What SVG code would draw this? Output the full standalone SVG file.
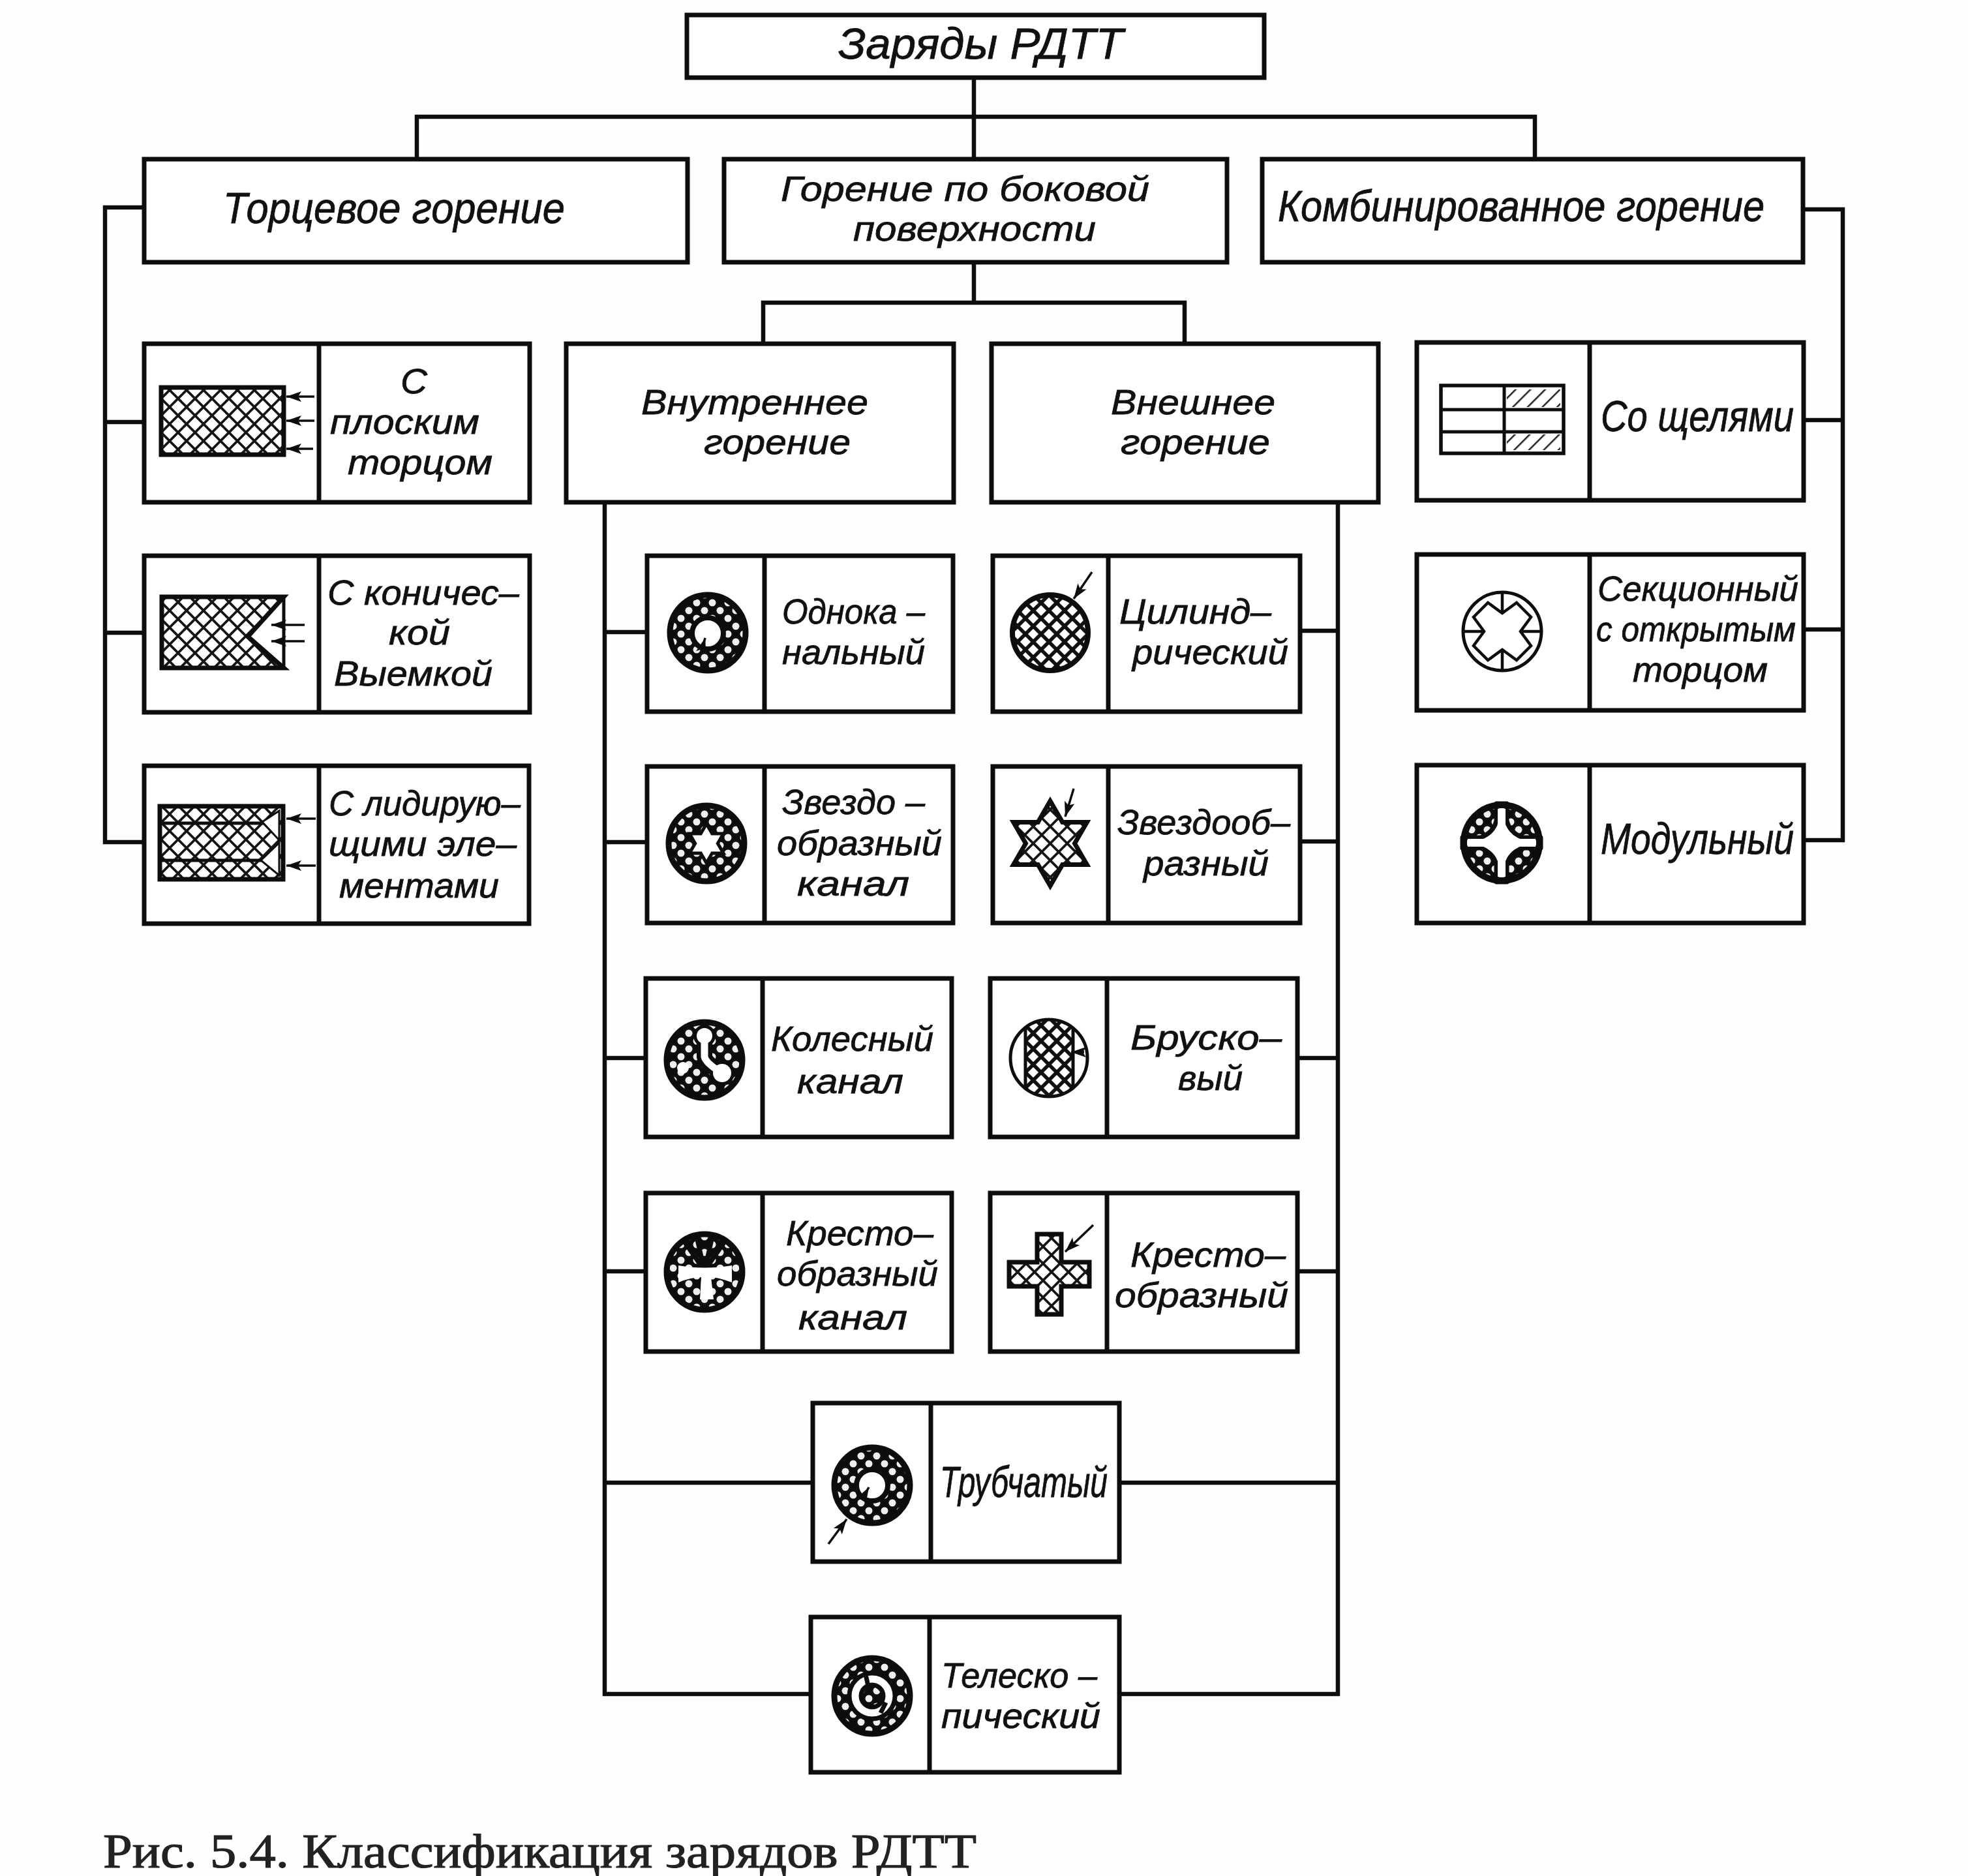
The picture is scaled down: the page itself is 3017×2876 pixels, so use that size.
<svg xmlns="http://www.w3.org/2000/svg" width="3017" height="2876" viewBox="0 0 3017 2876">
<style>
.b{fill:#fff;stroke:#0d0d0d;stroke-width:7;stroke-linejoin:miter}
.d{fill:none;stroke:#0d0d0d;stroke-width:7}
.c{fill:none;stroke:#0d0d0d;stroke-width:6.5;stroke-linecap:square;stroke-linejoin:miter}
.t{font-family:"Liberation Sans","DejaVu Sans",sans-serif;font-style:italic;font-size:54px;fill:#111;stroke:#111;stroke-width:.8}
.h{font-size:54px}
.s{font-size:66px}
.cap{font-family:"Liberation Serif","DejaVu Serif",serif;font-size:74px;fill:#222;stroke:#222;stroke-width:1.2}
.o{stroke:#0d0d0d;stroke-width:7;stroke-linejoin:miter}
.ln{fill:none;stroke:#0d0d0d;stroke-width:5}
.a{fill:none;stroke:#0d0d0d;stroke-width:3.5;marker-end:url(#ah)}
.w{fill:#fff}
</style>
<defs>
<marker id="ah" markerUnits="userSpaceOnUse" markerWidth="28" markerHeight="20" refX="26" refY="10" orient="auto"><path d="M0,10L26,10L3,2L8,10L3,18L26,10Z" fill="#0d0d0d"/></marker>
<pattern id="x" patternUnits="userSpaceOnUse" width="26" height="26"><path d="M0,0L26,26M26,0L0,26" stroke="#151515" stroke-width="3.8" fill="none"/></pattern>
<pattern id="xb" patternUnits="userSpaceOnUse" width="24" height="24"><path d="M0,0L24,24M24,0L0,24" stroke="#111" stroke-width="5.5" fill="none"/></pattern>
<pattern id="xd" patternUnits="userSpaceOnUse" width="24" height="24"><rect width="24" height="24" fill="#0d0d0d"/><circle cx="12" cy="12" r="5.5" fill="#eee"/><circle cx="0" cy="0" r="5.5" fill="#eee"/><circle cx="24" cy="0" r="5.5" fill="#eee"/><circle cx="0" cy="24" r="5.5" fill="#eee"/><circle cx="24" cy="24" r="5.5" fill="#eee"/></pattern>
<pattern id="s" patternUnits="userSpaceOnUse" width="16" height="16" patternTransform="rotate(45)"><path d="M0,0V16" stroke="#222" stroke-width="5"/></pattern>
<clipPath id="cbar"><circle cx="1608" cy="1622" r="60"/></clipPath>
</defs>
<rect width="3017" height="2876" fill="#fefefe"/>

<g id="connectors">
<path class="c" d="M1493,119V244M639,244V179H2353V244"/>
<path class="c" d="M1493,402V464M1170,527V464H1816V527"/>
<path class="c" d="M221,318H161V1291H221M161,647H221M161,970H221"/>
<path class="c" d="M2765,321H2825V1288H2766M2825,644H2766M2825,965H2766"/>
<path class="c" d="M927,770V2597H1243M927,969H992M927,1291H992M927,1622H990M927,1949H990M927,2273H1246"/>
<path class="c" d="M2051,770V2597H1716M2051,967H1993M2051,1290H1993M2051,1622H1989M2051,1949H1989M2051,2273H1716"/>
</g>

<g id="root"><rect class="b" x="1053" y="23" width="885" height="96"/><text class="t s" x="1285" y="90" textLength="437" lengthAdjust="spacingAndGlyphs">Заряды  РДТТ</text></g>
<g id="end-burning"><rect class="b" x="221" y="244" width="833" height="158"/><text class="t s" x="342" y="342" textLength="524" lengthAdjust="spacingAndGlyphs">Торцевое горение</text></g>
<g id="side-burning"><rect class="b" x="1110" y="244" width="771" height="158"/><text class="t h"><tspan x="1197" y="308" textLength="565" lengthAdjust="spacingAndGlyphs">Горение по боковой</tspan><tspan x="1308" y="369" textLength="372" lengthAdjust="spacingAndGlyphs">поверхности</tspan></text></g>
<g id="combined-burning"><rect class="b" x="1935" y="244" width="829" height="158"/><text class="t s" x="1959" y="339" textLength="746" lengthAdjust="spacingAndGlyphs">Комбинированное горение</text></g>
<g id="inner"><rect class="b" x="868" y="527" width="594" height="243"/><text class="t h"><tspan x="983" y="635" textLength="348" lengthAdjust="spacingAndGlyphs">Внутреннее</tspan><tspan x="1079" y="696" textLength="225" lengthAdjust="spacingAndGlyphs">горение</tspan></text></g>
<g id="outer"><rect class="b" x="1520" y="527" width="593" height="243"/><text class="t h"><tspan x="1703" y="635" textLength="252" lengthAdjust="spacingAndGlyphs">Внешнее</tspan><tspan x="1718" y="696" textLength="229" lengthAdjust="spacingAndGlyphs">горение</tspan></text></g>

<g id="flat-end"><rect class="b" x="221" y="527" width="591" height="243"/><path class="d" d="M489,527V770"/>
<rect x="247" y="594" width="188" height="103" fill="url(#x)" class="o"/>
<path class="a" d="M482,608H439"/><path class="a" d="M482,645H439"/><path class="a" d="M480,688H439"/>
<text class="t"><tspan x="614" y="603" textLength="41" lengthAdjust="spacingAndGlyphs">С</tspan><tspan x="506" y="665" textLength="229" lengthAdjust="spacingAndGlyphs">плоским</tspan><tspan x="533" y="727" textLength="222" lengthAdjust="spacingAndGlyphs">торцом</tspan></text></g>

<g id="conical"><rect class="b" x="221" y="852" width="591" height="240"/><path class="d" d="M489,852V1092"/>
<path d="M248,915H435L380,976L435,1024H248Z" fill="url(#x)" class="o"/><path d="M435,915V1024" class="ln"/>
<path class="a" d="M467,958H416"/><path class="a" d="M467,983H416"/>
<text class="t"><tspan x="502" y="927" textLength="294" lengthAdjust="spacingAndGlyphs">С коничес–</tspan><tspan x="596" y="988" textLength="94" lengthAdjust="spacingAndGlyphs">кой</tspan><tspan x="512" y="1051" textLength="243" lengthAdjust="spacingAndGlyphs">Выемкой</tspan></text></g>

<g id="leading"><rect class="b" x="221" y="1174" width="590" height="242"/><path class="d" d="M489,1174V1416"/>
<rect x="245" y="1236" width="189" height="112" fill="url(#x)" class="o"/>
<path d="M245,1262H405M245,1319H402" class="ln"/>
<path class="w" stroke="#0d0d0d" stroke-width="3" d="M402,1260L428,1243V1288ZM400,1319L428,1292V1342Z"/>
<path class="a" d="M484,1255H439"/><path class="a" d="M484,1327H439"/>
<text class="t"><tspan x="504" y="1250" textLength="294" lengthAdjust="spacingAndGlyphs">С лидирую–</tspan><tspan x="504" y="1312" textLength="288" lengthAdjust="spacingAndGlyphs">щими эле–</tspan><tspan x="520" y="1376" textLength="245" lengthAdjust="spacingAndGlyphs">ментами</tspan></text></g>

<g id="single-channel"><rect class="b" x="992" y="852" width="469" height="239"/><path class="d" d="M1172,852V1091"/>
<circle cx="1085" cy="970" r="58" fill="url(#xd)" stroke="#0d0d0d" stroke-width="9"/><circle cx="1085" cy="971" r="24" class="w" stroke="#0d0d0d" stroke-width="8"/>
<path class="a" d="M1076,996L1081,978"/>
<text class="t"><tspan x="1199" y="956" textLength="219" lengthAdjust="spacingAndGlyphs">Однока –</tspan><tspan x="1199" y="1018" textLength="219" lengthAdjust="spacingAndGlyphs">нальный</tspan></text></g>

<g id="star-channel"><rect class="b" x="992" y="1175" width="469" height="240"/><path class="d" d="M1172,1175V1415"/>
<circle cx="1083" cy="1293" r="58" fill="url(#xd)" stroke="#0d0d0d" stroke-width="9"/>
<path transform="translate(1083,1293)" class="w" stroke="#0d0d0d" stroke-width="5" d="M0,-30L8.7,-15H26L17.3,0L26,15H8.7L0,30L-8.7,15H-26L-17.3,0L-26,-15H-8.7Z"/>
<text class="t"><tspan x="1199" y="1248" textLength="219" lengthAdjust="spacingAndGlyphs">Звездо –</tspan><tspan x="1191" y="1311" textLength="253" lengthAdjust="spacingAndGlyphs">образный</tspan><tspan x="1222" y="1373" textLength="172" lengthAdjust="spacingAndGlyphs">канал</tspan></text></g>

<g id="wheel-channel"><rect class="b" x="990" y="1500" width="469" height="243"/><path class="d" d="M1169,1500V1743"/>
<circle cx="1080" cy="1625" r="58" fill="url(#xd)" stroke="#0d0d0d" stroke-width="9"/>
<path d="M1080,1590V1620Q1082,1630 1107,1645" fill="none" stroke="#0d0d0d" stroke-width="24" stroke-linecap="round"/>
<circle cx="1080" cy="1588" r="17" fill="#0d0d0d"/><circle cx="1107" cy="1645" r="19" fill="#0d0d0d"/>
<path d="M1080,1590V1620Q1082,1630 1107,1645" fill="none" stroke="#fff" stroke-width="11"/>
<circle cx="1080" cy="1588" r="12" fill="#fff"/><circle cx="1107" cy="1645" r="14" fill="#fff"/>
<circle cx="1047" cy="1637" r="9" fill="#fff"/>
<text class="t"><tspan x="1182" y="1611" textLength="249" lengthAdjust="spacingAndGlyphs">Колесный</tspan><tspan x="1222" y="1676" textLength="163" lengthAdjust="spacingAndGlyphs">канал</tspan></text></g>

<g id="cross-channel"><rect class="b" x="990" y="1829" width="469" height="243"/><path class="d" d="M1169,1829V2072"/>
<circle cx="1080" cy="1950" r="58" fill="url(#xd)" stroke="#0d0d0d" stroke-width="9"/>
<path d="M1080,1948L1050,1905M1080,1948L1068,1896M1080,1948L1092,1896M1080,1948L1110,1905M1080,1948L1062,1920M1080,1948L1098,1920" stroke="#0d0d0d" stroke-width="7" fill="none"/>
<path class="w" d="M1040,1940Q1080,1947 1122,1940V1966Q1100,1958 1090,1958L1094,1992H1073L1075,1958Q1060,1958 1040,1966Z"/>
<text class="t"><tspan x="1205" y="1909" textLength="226" lengthAdjust="spacingAndGlyphs">Кресто–</tspan><tspan x="1191" y="1971" textLength="247" lengthAdjust="spacingAndGlyphs">образный</tspan><tspan x="1224" y="2038" textLength="167" lengthAdjust="spacingAndGlyphs">канал</tspan></text></g>

<g id="cylindrical"><rect class="b" x="1522" y="852" width="471" height="239"/><path class="d" d="M1699,852V1091"/>
<circle cx="1610" cy="970" r="58" fill="url(#xb)" stroke="#0d0d0d" stroke-width="8"/>
<path class="a" d="M1674,877L1646,918"/>
<text class="t"><tspan x="1716" y="956" textLength="233" lengthAdjust="spacingAndGlyphs">Цилинд–</tspan><tspan x="1736" y="1018" textLength="239" lengthAdjust="spacingAndGlyphs">рический</tspan></text></g>

<g id="star"><rect class="b" x="1522" y="1175" width="471" height="240"/><path class="d" d="M1699,1175V1415"/>
<path transform="translate(1610,1293)" fill="url(#x)" class="o" stroke-width="6" d="M0,-65L18.75,-32.5H56.3L37.5,0L56.3,32.5H18.75L0,65L-18.75,32.5H-56.3L-37.5,0L-56.3,-32.5H-18.75Z"/>
<path class="a" d="M1646,1209L1633,1252"/>
<text class="t"><tspan x="1713" y="1279" textLength="265" lengthAdjust="spacingAndGlyphs">Звездооб–</tspan><tspan x="1753" y="1342" textLength="192" lengthAdjust="spacingAndGlyphs">разный</tspan></text></g>

<g id="bar"><rect class="b" x="1518" y="1500" width="471" height="243"/><path class="d" d="M1697,1500V1743"/>
<g clip-path="url(#cbar)"><rect x="1572" y="1558" width="73" height="130" fill="url(#xb)"/><path d="M1572,1558V1688M1645,1558V1688" stroke="#0d0d0d" stroke-width="5" fill="none"/></g>
<circle cx="1608" cy="1622" r="59" fill="none" stroke="#0d0d0d" stroke-width="5"/>
<path class="a" d="M1662,1613H1642"/>
<text class="t"><tspan x="1733" y="1609" textLength="232" lengthAdjust="spacingAndGlyphs">Бруско–</tspan><tspan x="1806" y="1671" textLength="99" lengthAdjust="spacingAndGlyphs">вый</tspan></text></g>

<g id="cross"><rect class="b" x="1518" y="1829" width="471" height="243"/><path class="d" d="M1697,1829V2072"/>
<path d="M1590,1892H1627V1935H1670V1972H1627V2015H1590V1972H1547V1935H1590Z" fill="url(#x)" class="o" stroke-width="6"/>
<path class="a" d="M1676,1878L1633,1919"/>
<text class="t"><tspan x="1733" y="1942" textLength="238" lengthAdjust="spacingAndGlyphs">Кресто–</tspan><tspan x="1709" y="2004" textLength="266" lengthAdjust="spacingAndGlyphs">образный</tspan></text></g>

<g id="tubular"><rect class="b" x="1246" y="2151" width="470" height="243"/><path class="d" d="M1427,2151V2394"/>
<circle cx="1337" cy="2277" r="58" fill="url(#xd)" stroke="#0d0d0d" stroke-width="9"/><circle cx="1337" cy="2277" r="24" class="w" stroke="#0d0d0d" stroke-width="8"/>
<path class="a" d="M1323,2296L1332,2280"/><path class="a" d="M1270,2367L1298,2329"/>
<text class="t s" x="1441" y="2295" textLength="257" lengthAdjust="spacingAndGlyphs">Трубчатый</text></g>

<g id="telescopic"><rect class="b" x="1243" y="2479" width="473" height="238"/><path class="d" d="M1425,2479V2717"/>
<circle cx="1337" cy="2600" r="58" fill="url(#xd)" stroke="#0d0d0d" stroke-width="9"/><circle cx="1337" cy="2600" r="35" class="w" stroke="#0d0d0d" stroke-width="7"/>
<path d="M1327,2567L1331,2585M1358,2610L1350,2626" fill="none" stroke="#0d0d0d" stroke-width="7"/>
<circle cx="1337" cy="2600" r="17" fill="url(#xd)" stroke="#0d0d0d" stroke-width="7"/>
<text class="t"><tspan x="1443" y="2587" textLength="239" lengthAdjust="spacingAndGlyphs">Телеско –</tspan><tspan x="1443" y="2649" textLength="244" lengthAdjust="spacingAndGlyphs">пический</tspan></text></g>

<g id="slots"><rect class="b" x="2172" y="525" width="593" height="242"/><path class="d" d="M2437,525V767"/>
<rect x="2310" y="597" width="82" height="27" fill="url(#s)"/><rect x="2310" y="666" width="82" height="24" fill="url(#s)"/>
<rect x="2209" y="591" width="188" height="104" fill="none" stroke="#0d0d0d" stroke-width="5.5"/>
<path class="ln" d="M2209,628H2397M2209,662H2397M2306,591V695" stroke-width="6"/>
<text class="t s" x="2454" y="661" textLength="296" lengthAdjust="spacingAndGlyphs">Со щелями</text></g>

<g id="sectional"><rect class="b" x="2172" y="850" width="593" height="239"/><path class="d" d="M2437,850V1089"/>
<circle cx="2303" cy="968" r="60" class="w" stroke="#0d0d0d" stroke-width="5"/>
<path transform="translate(2303,968)" fill="none" stroke="#0d0d0d" stroke-width="4.5" d="M0,-28L22,-44L44,-22L28,0L44,22L22,44L0,28L-22,44L-44,22L-28,0L-44,-22L-22,-44ZM0,-28V-60M28,0H60M0,28V60M-28,0H-60"/>
<text class="t"><tspan x="2449" y="921" textLength="308" lengthAdjust="spacingAndGlyphs">Секционный</tspan><tspan x="2447" y="983" textLength="306" lengthAdjust="spacingAndGlyphs">с открытым</tspan><tspan x="2503" y="1045" textLength="207" lengthAdjust="spacingAndGlyphs">торцом</tspan></text></g>

<g id="modular"><rect class="b" x="2172" y="1173" width="593" height="242"/><path class="d" d="M2437,1173V1415"/>
<circle cx="2302" cy="1292" r="58" fill="url(#xd)"/>
<path transform="translate(2302,1292)" class="w" stroke="#0d0d0d" stroke-width="7" stroke-linejoin="round" d="M-8,-60H8V-34Q12,-16 32,-8H60V8H32Q12,16 8,34V60H-8V34Q-12,16 -32,8H-60V-8H-32Q-12,-16 -8,-34Z"/>
<path class="w" d="M2296,1240H2308V1344H2296ZM2250,1286H2354V1298H2250Z"/>
<circle cx="2302" cy="1292" r="58" fill="none" stroke="#0d0d0d" stroke-width="10"/>
<text class="t s" x="2454" y="1309" textLength="296" lengthAdjust="spacingAndGlyphs">Модульный</text></g>

<text id="caption" class="cap" x="158" y="2863" textLength="1339" lengthAdjust="spacingAndGlyphs">Рис. 5.4. Классификация зарядов РДТТ</text>
</svg>
